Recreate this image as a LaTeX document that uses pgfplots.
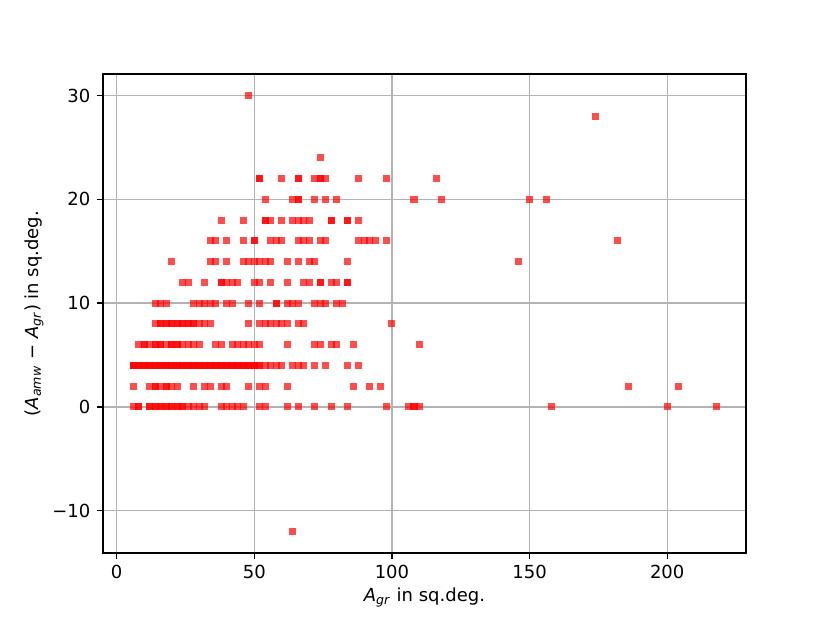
\documentclass[border=0pt]{standalone}
\usepackage{pgfplots}
\pgfplotsset{compat=1.18}
\usepackage{fontspec}
\setmainfont{DejaVu Sans}
\pgfplotsset{pts/.style={only marks, color=red, mark=square*, mark size=1.95pt,
  mark options={solid, fill=red, draw opacity=0, fill opacity=0.7}}}
\begin{document}
\begin{tikzpicture}
\path[use as bounding box] (-57.2pt,-38.9pt) rectangle (403.9pt,307.2pt);
\begin{axis}[
  scale only axis, width=357.2pt, height=266.1pt,
  xmin=-5, xmax=228.6, ymin=-14.1, ymax=32.1,
  xtick={0,50,100,150,200}, ytick={-10,0,10,20,30},
  yticklabels={−10,0,10,20,30},
  grid=major, major grid style={color=black!30, line width=0.8pt},
  axis line style={line width=0.8pt},
  tick style={black, line width=0.8pt},
  tick align=outside, major tick length=3.5pt,
  xtick pos=bottom, ytick pos=left,
  /pgf/number format/assume math mode=true,
  tick label style={font=\fontsize{10}{12}\selectfont},
  label style={font=\fontsize{10}{12}\selectfont},
  xlabel={\textit{A}\textsubscript{\textit{gr}} in sq.deg.},
  ylabel={(\textit{A}\textsubscript{\textit{amw}} − \textit{A}\textsubscript{\textit{gr}}) in sq.deg.},
  xlabel style={yshift=2pt},
  ylabel style={yshift=-2pt},
]
% y = 30, 28, 24, -12
\addplot[pts] coordinates {(48,30) (174,28) (74,24) (64,-12)};
% y = 22
\addplot[pts] coordinates {(52,22) (52,22) (60,22) (66,22) (66,22) (72,22) (74,22) (74,22) (76,22) (88,22) (98,22) (116,22)};
% y = 20
\addplot[pts] coordinates {(54,20) (64,20) (66,20) (66,20) (72,20) (76,20) (80,20) (108,20) (118,20) (150,20) (156,20)};
% y = 18
\addplot[pts] coordinates {(38,18) (46,18) (54,18) (54,18) (56,18) (60,18) (64,18) (66,18) (68,18) (70,18) (78,18) (78,18) (84,18) (84,18) (88,18)};
% y = 16
\addplot[pts] coordinates {(34,16) (36,16) (40,16) (46,16) (50,16) (50,16) (56,16) (58,16) (60,16) (66,16) (68,16) (70,16) (74,16) (76,16) (88,16) (90,16) (92,16) (94,16) (98,16) (182,16)};
% y = 14
\addplot[pts] coordinates {(20,14) (34,14) (36,14) (40,14) (46,14) (48,14) (50,14) (52,14) (54,14) (56,14) (62,14) (66,14) (70,14) (72,14) (84,14) (146,14)};
% y = 12
\addplot[pts] coordinates {(24,12) (26,12) (32,12) (38,12) (38,12) (40,12) (42,12) (44,12) (50,12) (52,12) (56,12) (62,12) (68,12) (70,12) (74,12) (74,12) (78,12) (80,12) (84,12) (84,12)};
% y = 10
\addplot[pts] coordinates {(14,10) (16,10) (18,10) (28,10) (30,10) (32,10) (34,10) (36,10) (40,10) (42,10) (48,10) (52,10) (58,10) (58,10) (62,10) (64,10) (66,10) (72,10) (74,10) (76,10) (80,10) (82,10)};
% y = 8
\addplot[pts] coordinates {(14,8) (16,8) (18,8) (20,8) (22,8) (24,8) (26,8) (28,8) (30,8) (32,8) (34,8)
 (16,8) (18,8) (20,8) (22,8) (24,8) (26,8) (28,8)
 (48,8) (52,8) (54,8) (56,8) (58,8) (60,8) (62,8) (66,8) (68,8) (100,8)};
% y = 6
\addplot[pts] coordinates {(8,6) (10,6) (12,6) (14,6) (16,6) (18,6) (20,6) (22,6) (24,6) (26,6) (28,6) (30,6)
 (10,6) (14,6) (16,6) (20,6) (22,6)
 (36,6) (38,6) (42,6) (44,6) (46,6) (48,6) (50,6) (52,6) (62,6) (72,6) (74,6) (78,6) (80,6) (86,6) (110,6)};
% y = 4
\addplot[pts] coordinates {(6,4) (8,4) (10,4) (12,4) (14,4) (16,4) (18,4) (20,4) (22,4) (24,4) (26,4) (28,4) (30,4) (32,4) (34,4) (36,4) (38,4) (40,4) (42,4) (44,4) (46,4) (48,4) (50,4) (52,4) (54,4) (56,4) (58,4) (60,4)
 (6,4) (8,4) (10,4) (12,4) (14,4) (16,4) (18,4) (20,4) (22,4) (24,4) (26,4) (28,4) (30,4) (32,4) (34,4) (36,4) (38,4) (40,4) (42,4) (44,4) (46,4) (48,4) (50,4) (52,4)
 (6,4) (8,4) (10,4) (12,4) (14,4) (16,4) (18,4) (20,4) (22,4) (24,4) (26,4) (28,4) (30,4) (32,4) (34,4) (36,4) (38,4) (40,4) (42,4) (44,4) (46,4) (48,4) (50,4)
 (64,4) (66,4) (68,4) (72,4) (76,4) (84,4) (88,4)};
% y = 2
\addplot[pts] coordinates {(6,2) (12,2) (14,2) (16,2) (18,2) (20,2) (22,2) (14,2) (18,2) (28,2) (32,2) (34,2) (38,2) (40,2) (48,2) (52,2) (54,2) (62,2) (86,2) (92,2) (96,2) (186,2) (204,2)};
% y = 0
\addplot[pts] coordinates {(6,0) (8,0) (8,0) (12,0) (14,0) (16,0) (18,0) (20,0) (22,0) (24,0) (26,0) (28,0) (30,0) (32,0)
 (12,0) (14,0) (16,0) (18,0) (20,0) (22,0) (24,0)
 (38,0) (40,0) (42,0) (44,0) (46,0) (52,0) (54,0) (62,0) (66,0) (72,0) (78,0) (84,0) (98,0) (106,0) (108,0) (108,0) (110,0) (158,0) (200,0) (218,0)};
\end{axis}
\end{tikzpicture}
\end{document}
